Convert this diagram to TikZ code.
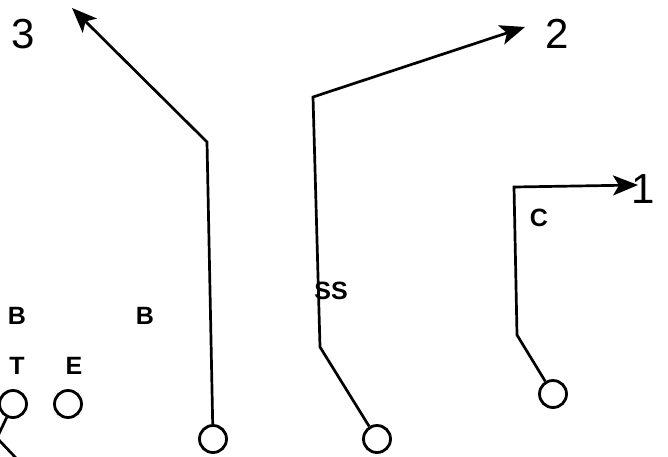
\documentclass[tikz,border=0pt]{standalone}
\usepackage{fontspec}
\setmainfont{Liberation Sans}
\usetikzlibrary{arrows.meta}
\tikzset{
  player/.style={circle,draw,line width=2.8pt,minimum size=27pt,inner sep=0pt},
  route/.style={line width=2.7pt,line join=miter,-{Stealth[length=25pt,width=20pt,inset=6pt]}},
  block/.style={line width=2.7pt},
  routenum/.style={font=\fontsize{42}{42}\selectfont,inner sep=0pt},
  poslabel/.style={font=\bfseries\fontsize{25}{25}\selectfont,inner sep=0pt}
}
\begin{document}
\begin{tikzpicture}[x=1pt,y=-1pt]
\useasboundingbox (0,0) rectangle (668,456);
\clip (0,0) rectangle (668,456);
% players on the line
\node[player] (tk) at (13,404) {};
\node[player] (en) at (68,404) {};
\node[player] (wr3) at (213,439) {};
\node[player] (wr2) at (377,439) {};
\node[player] (wr1) at (553,394) {};
% defenders
\node[poslabel] (b1) at (17,316) {B};
\node[poslabel] (b2) at (145,316) {B};
\node[poslabel] (t) at (17,366) {T};
\node[poslabel] (e) at (74,366) {E};
\node[poslabel] (ss) at (331,291) {SS};
\node[poslabel] (c) at (539,218) {C};
% route ends
\coordinate (end3) at (72,8);
\coordinate (end2) at (525,27);
\coordinate (end1) at (638,185);
\node[routenum] (n3) at (23,34) {3};
\node[routenum] (n2) at (557,34) {2};
\node[routenum,anchor=base west] (n1) at (631,203) {1};
% routes
\draw[route] (wr3) -- (207,142) -- (end3);
\draw[route] (wr2) -- (320,347) -- (313,97) -- (end2);
\draw[route] (wr1) -- (517,335) -- (514,187) -- (end1);
\draw[block] (tk) -- (-3,438) -- (16,458);
\end{tikzpicture}
\end{document}
